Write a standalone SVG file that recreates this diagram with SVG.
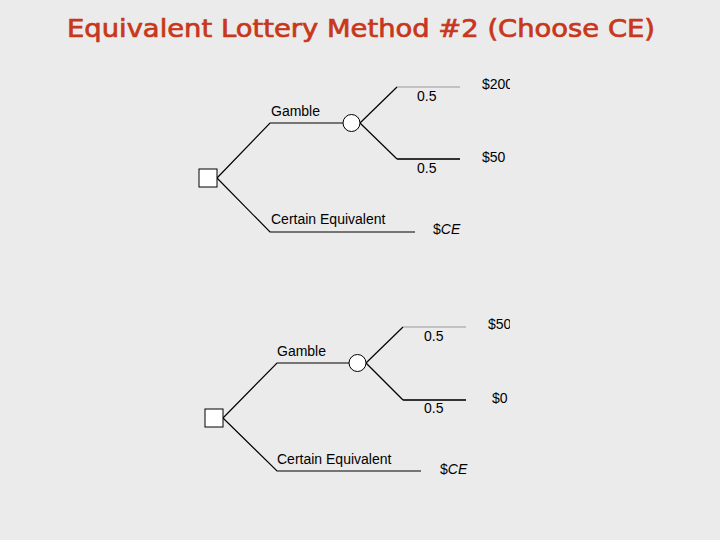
<svg xmlns="http://www.w3.org/2000/svg" width="720" height="540" viewBox="0 0 720 540">
<defs>
<style>
.bg{fill:#ebebeb}
.title{font-family:"Comic Sans MS","DejaVu Sans",sans-serif;font-size:25px;fill:#c8371a;stroke:#c8371a;stroke-width:0.7}
.ln{stroke:#000;stroke-width:1.2;fill:none}
.gr{stroke:#999;stroke-width:1.2;fill:none}
.dk{stroke:#333;stroke-width:1.8;fill:none}
.nd{fill:#fff;stroke:#000;stroke-width:1}
.lb{font-family:"Liberation Sans",Arial,sans-serif;font-size:14px;fill:#000}
.it{font-style:italic}
</style>
<clipPath id="edge"><rect x="0" y="0" width="510" height="540"/></clipPath>
</defs>
<rect class="bg" x="0" y="0" width="720" height="540"/>
<text class="title" x="67" y="37" textLength="588" lengthAdjust="spacingAndGlyphs">Equivalent Lottery Method #2 (Choose CE)</text>

<g id="connectors">
<polyline class="ln" points="217,178 270,123 343,123"/>
<polyline class="ln" points="360,123 397,87"/>
<line class="gr" x1="397" y1="87" x2="460" y2="87"/>
<polyline class="ln" points="360,123 397,159"/>
<line class="dk" x1="397" y1="159" x2="460" y2="159"/>
<polyline class="ln" points="217,178 270,232 415,232"/>

<polyline class="ln" points="223,418 277,363 349,363"/>
<polyline class="ln" points="366,363 403,327"/>
<line class="gr" x1="403" y1="327" x2="466" y2="327"/>
<polyline class="ln" points="366,363 403,400"/>
<line class="dk" x1="403" y1="400" x2="466" y2="400"/>
<polyline class="ln" points="223,418 277,471 421,471"/>
</g>

<g id="decision1"><rect class="nd" x="199" y="169" width="18" height="18"/></g>
<g id="chance1"><circle class="nd" cx="351.5" cy="123" r="8.5"/></g>
<g id="labels1">
<text class="lb" x="271" y="116">Gamble</text>
<text class="lb" x="271" y="224">Certain Equivalent</text>
<text class="lb" x="417" y="101">0.5</text>
<text class="lb" x="417" y="173">0.5</text>
<g clip-path="url(#edge)">
<text class="lb" x="482" y="89">$200</text>
<text class="lb" x="482" y="162">$50</text>
</g>
<text class="lb" x="433" y="234">$<tspan class="it">CE</tspan></text>
</g>

<g id="decision2"><rect class="nd" x="205" y="409" width="18" height="18"/></g>
<g id="chance2"><circle class="nd" cx="357.5" cy="363" r="8.5"/></g>
<g id="labels2">
<text class="lb" x="277" y="356">Gamble</text>
<text class="lb" x="277" y="464">Certain Equivalent</text>
<text class="lb" x="424" y="341">0.5</text>
<text class="lb" x="424" y="413">0.5</text>
<g clip-path="url(#edge)">
<text class="lb" x="488" y="329">$50</text>
<text class="lb" x="492" y="403">$0</text>
</g>
<text class="lb" x="440" y="474">$<tspan class="it">CE</tspan></text>
</g>
</svg>
